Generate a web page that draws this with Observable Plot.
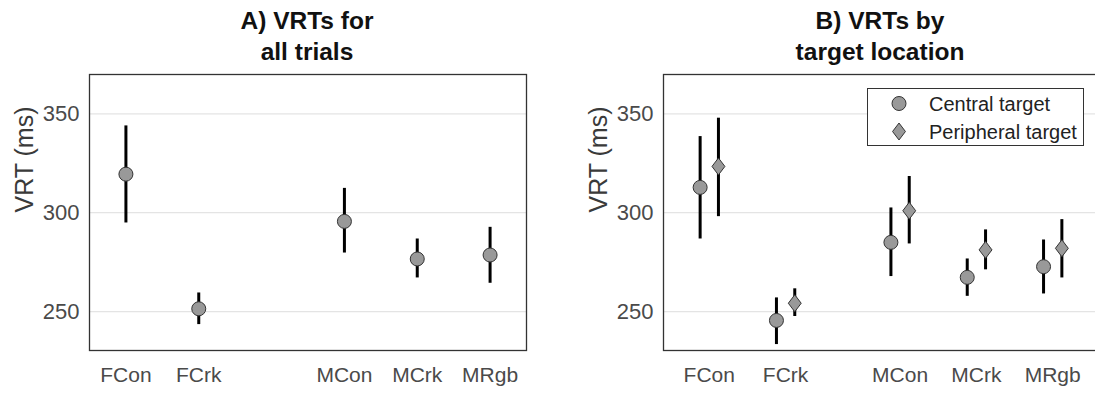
<!DOCTYPE html>
<html>
<head>
<meta charset="utf-8">
<script src="https://cdn.jsdelivr.net/npm/d3@7"></script>
<script src="https://cdn.jsdelivr.net/npm/@observablehq/plot@0.6"></script>
<style>
  html, body { margin: 0; padding: 0; background: #fff; overflow: hidden; width: 1095px; height: 396px; }
  #root { position: relative; width: 1095px; height: 396px; font-family: "Liberation Sans", Arial, sans-serif; overflow: hidden; }
  .panel { position: absolute; top: 0; }
  .panel svg { max-width: none !important; display: block; }
  .title { position: absolute; top: 5px; width: 400px; text-align: center; font-weight: bold; font-size: 24.5px; line-height: 31px; color: #111; }
  #legend { position: absolute; left: 867px; top: 88px; width: 217px; height: 58px; box-sizing: border-box; border: 1.3px solid #333; background: #fff; }
  #legend svg { position: absolute; left: 0; top: 0; }
</style>
</head>
<body>
<div id="root">
  <div id="panelA" class="panel" style="left:0px;width:545px"></div>
  <div id="panelB" class="panel" style="left:545px;width:556px"></div>
  <div class="title" style="left:107px">A) VRTs for<br>all trials</div>
  <div class="title" style="left:680px">B) VRTs by<br>target location</div>
  <div id="legend"></div>
</div>
<script>
// ---- data ----
const categories = ["FCon", "FCrk", "MCon", "MCrk", "MRgb"];
const yTicks = [250, 300, 350];

// Panel A: all trials
const allMean = [319.5, 251.4, 295.6, 276.6, 278.6];
const allLow  = [294.8, 243.4, 279.6, 267.0, 264.3];
const allHigh = [343.9, 259.4, 312.3, 286.7, 292.6];

// Panel B: by target location
const seriesNames = ["Central target", "Peripheral target"];
const centralMean = [312.8, 245.5, 285.0, 267.3, 272.7];
const centralLow  = [286.7, 233.3, 267.7, 257.7, 258.9];
const centralHigh = [338.5, 256.9, 302.4, 276.6, 286.2];
const periphMean  = [323.4, 254.2, 301.0, 281.2, 282.0];
const periphLow   = [298.0, 247.5, 284.2, 271.1, 267.0];
const periphHigh  = [347.8, 261.5, 318.3, 291.3, 296.5];

// ---- layout helpers ----
const posA = categories.map((c, i) => i + 1 + (c.startsWith("M") ? 1 : 0));
const posB = categories.map((c, i) => i + 1 + (c.startsWith("M") ? 0.5 : 0));
const dodge = 0.12;

const tallDiamond = {
  draw(ctx, size) {
    const y = Math.sqrt(size / 1.52), x = y * 0.76;
    ctx.moveTo(0, -y); ctx.lineTo(x, 0); ctx.lineTo(0, y); ctx.lineTo(-x, 0); ctx.closePath();
  }
};

const font = "Liberation Sans, Arial, sans-serif";
const yDomain = [230.3, 369.9];
const markerFill = "#999999";
const markerStroke = "#333333";

function commonMarks() {
  return [
    Plot.gridY(yTicks, {stroke: "#e4e4e4", strokeOpacity: 1, strokeWidth: 1.3}),
    Plot.axisY(yTicks, {tickSize: 0, tickPadding: 10, fontSize: 22, label: null, fill: "#4a4a4a"}),
    Plot.text(["VRT (ms)"], {frameAnchor: "left", dx: -64.5, rotate: -90, fontSize: 25, fill: "#3a3a3a"})
  ];
}

// ---- Panel A ----
const dataA = categories.map((c, i) => ({cat: c, x: posA[i], mean: allMean[i], lo: allLow[i], hi: allHigh[i]}));
const chartA = Plot.plot({
  width: 545, height: 396,
  marginLeft: 89, marginRight: 19, marginTop: 74, marginBottom: 46,
  style: {fontFamily: font, background: "transparent", overflow: "visible", maxWidth: "none"},
  x: {type: "linear", domain: [0.5, 6.5], axis: null},
  y: {domain: yDomain, axis: null},
  marks: [
    ...commonMarks(),
    Plot.axisX(posA, {tickSize: 0, tickPadding: 17, fontSize: 21, label: null, fill: "#4a4a4a",
      tickFormat: d => categories[posA.indexOf(d)]}),
    Plot.ruleX(dataA, {x: "x", y1: "lo", y2: "hi", stroke: "#000", strokeWidth: 3}),
    Plot.dot(dataA, {x: "x", y: "mean", r: 7, fill: markerFill, stroke: markerStroke, strokeWidth: 1}),
    Plot.frame({stroke: "#333", strokeWidth: 1.3})
  ]
});
document.getElementById("panelA").appendChild(chartA);

// ---- Panel B ----
const dataC = categories.map((c, i) => ({cat: c, x: posB[i] - dodge, mean: centralMean[i], lo: centralLow[i], hi: centralHigh[i]}));
const dataP = categories.map((c, i) => ({cat: c, x: posB[i] + dodge, mean: periphMean[i], lo: periphLow[i], hi: periphHigh[i]}));
const chartB = Plot.plot({
  width: 556, height: 396,
  marginLeft: 118, marginRight: 3, marginTop: 74, marginBottom: 46,
  style: {fontFamily: font, background: "transparent", overflow: "visible", maxWidth: "none"},
  x: {type: "linear", domain: [0.4, 6.1], axis: null},
  y: {domain: yDomain, axis: null},
  marks: [
    ...commonMarks(),
    Plot.axisX(posB, {tickSize: 0, tickPadding: 17, fontSize: 21, label: null, fill: "#4a4a4a",
      tickFormat: d => categories[posB.indexOf(d)]}),
    Plot.ruleX(dataC, {x: "x", y1: "lo", y2: "hi", stroke: "#000", strokeWidth: 3}),
    Plot.ruleX(dataP, {x: "x", y1: "lo", y2: "hi", stroke: "#000", strokeWidth: 3}),
    Plot.dot(dataC, {x: "x", y: "mean", r: 7, fill: markerFill, stroke: markerStroke, strokeWidth: 1}),
    Plot.dot(dataP, {x: "x", y: "mean", r: 5.9, symbol: tallDiamond, fill: markerFill, stroke: markerStroke, strokeWidth: 1}),
    Plot.frame({stroke: "#333", strokeWidth: 1.3})
  ]
});
document.getElementById("panelB").appendChild(chartB);

// ---- Legend ----
const leg = d3.select("#legend").append("svg").attr("width", 217).attr("height", 58)
  .style("font-family", font);
const symbols = [d3.symbol(d3.symbolCircle, Math.PI * 49), d3.symbol(tallDiamond, Math.PI * 5.9 * 5.9)];
seriesNames.forEach((name, i) => {
  const cy = 14.5 + i * 28;
  leg.append("path").attr("d", symbols[i]()).attr("transform", `translate(31,${cy})`)
    .attr("fill", markerFill).attr("stroke", markerStroke).attr("stroke-width", 1);
  leg.append("text").attr("x", 61).attr("y", cy).attr("dy", "0.36em")
    .attr("font-size", 20).attr("fill", "#222").text(name);
});
</script>
</body>
</html>
